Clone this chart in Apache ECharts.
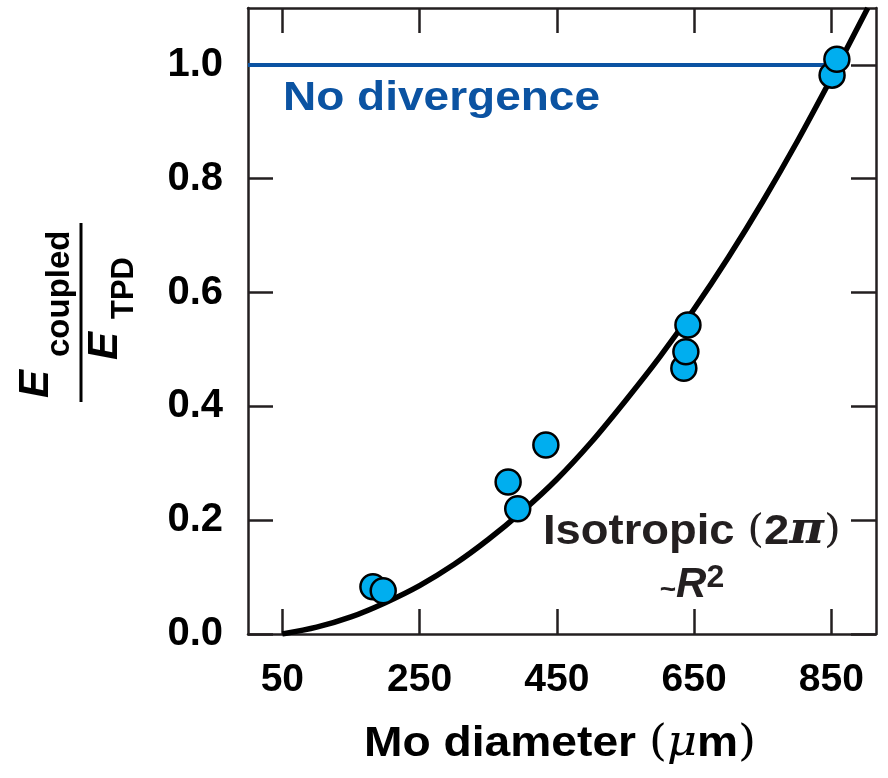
<!DOCTYPE html>
<html>
<head>
<meta charset="utf-8">
<script src="https://cdn.jsdelivr.net/npm/echarts@6/dist/echarts.min.js"></script>
<style>
html,body{margin:0;padding:0;background:#fff;}
#chart{width:888px;height:778px;}
</style>
</head>
<body>
<div id="chart"></div>
<script>
// ---- data ----
const xTicks = [50, 250, 450, 650, 850];
const yTicks = [0, 0.2, 0.4, 0.6, 0.8, 1.0];

// measured points (Mo diameter in µm, Ecoupled/ETPD)
const pointX = [182, 197, 379, 393, 434, 635, 638, 641, 851, 858];
const pointY = [0.083, 0.076, 0.267, 0.220, 0.332, 0.467, 0.496, 0.543, 0.982, 1.010];

// isotropic (2π) ~R^2 curve
const curveX = [50, 100, 150, 200, 250, 300, 350, 400, 450, 500, 550, 600, 650, 700, 750, 800, 850, 903];
const curveY = [0.0, 0.012, 0.030, 0.055, 0.085, 0.122, 0.166, 0.216, 0.272, 0.337, 0.410, 0.487, 0.571, 0.662, 0.760, 0.865, 0.977, 1.1];

// "No divergence" reference line
const noDivX = [0, 842];
const noDivY = [1.0, 1.0];

const FONT = "'Liberation Sans', Arial, Helvetica, sans-serif";
const AXIS_COLOR = '#231f20';
const BLUE = '#0b53a2';

const zip = (a, b) => a.map((v, i) => [v, b[i]]);

const chart = echarts.init(document.getElementById('chart'), null, {renderer: 'canvas'});

const axisCommon = {
  axisLine: {show: true, onZero: false, lineStyle: {color: AXIS_COLOR, width: 2.5}},
  splitLine: {show: false}
};
const tickStyle = {color: AXIS_COLOR, width: 2.5};

const option = {
  backgroundColor: '#ffffff',
  animation: false,
  grid: {left: 248, right: 12, top: 8, bottom: 144, containLabel: false},
  xAxis: [
    Object.assign({}, axisCommon, {
      type: 'value', min: 0, max: 915, position: 'bottom',
      axisTick: {show: true, inside: true, length: 25, customValues: xTicks, lineStyle: tickStyle},
      axisLabel: {show: true, customValues: xTicks, margin: 27, fontSize: 39, fontWeight: 'bold', color: '#000', fontFamily: FONT}
    }),
    Object.assign({}, axisCommon, {
      type: 'value', min: 0, max: 915, position: 'top',
      axisTick: {show: true, inside: true, length: 25, customValues: xTicks, lineStyle: tickStyle},
      axisLabel: {show: false}
    })
  ],
  yAxis: [
    Object.assign({}, axisCommon, {
      type: 'value', min: 0, max: 1.1, position: 'left',
      axisTick: {show: true, inside: true, length: 25, customValues: yTicks, lineStyle: tickStyle},
      axisLabel: {show: true, customValues: yTicks, margin: 25, fontSize: 40, fontWeight: 'bold', color: '#000', fontFamily: FONT,
        formatter: v => v.toFixed(1)}
    }),
    Object.assign({}, axisCommon, {
      type: 'value', min: 0, max: 1.1, position: 'right',
      axisTick: {show: true, inside: true, length: 25, customValues: yTicks, lineStyle: tickStyle},
      axisLabel: {show: false}
    })
  ],
  series: [
    {
      name: 'No divergence', type: 'line', data: zip(noDivX, noDivY),
      showSymbol: false, symbol: 'none', lineStyle: {color: BLUE, width: 4}, z: 3, silent: true
    },
    {
      name: 'Isotropic', type: 'line', data: zip(curveX, curveY), smooth: 0.3,
      showSymbol: false, symbol: 'none', lineStyle: {color: '#000', width: 5.5}, z: 4, silent: true
    },
    {
      name: 'Measured', type: 'scatter', data: zip(pointX, pointY), symbolSize: 25,
      itemStyle: {color: '#00aeef', borderColor: '#000', borderWidth: 2.5, opacity: 1}, z: 5
    }
  ],
  graphic: [
    // y axis title: E_coupled / E_TPD (rotated)
    {type: 'text', x: 57, y: 398, rotation: Math.PI / 2,
      style: {text: 'E', font: `italic bold 42px ${FONT}`, fill: '#000', align: 'left', verticalAlign: 'bottom'}},
    {type: 'text', x: 76, y: 357, rotation: Math.PI / 2,
      style: {text: 'coupled', font: `bold 33px ${FONT}`, fill: '#000', align: 'left', verticalAlign: 'bottom'}},
    {type: 'line', shape: {x1: 81, y1: 223, x2: 81, y2: 402}, style: {stroke: '#000', lineWidth: 3}},
    {type: 'text', x: 126, y: 360, rotation: Math.PI / 2,
      style: {text: 'E', font: `italic bold 42px ${FONT}`, fill: '#000', align: 'left', verticalAlign: 'bottom'}},
    {type: 'text', x: 140, y: 319, rotation: Math.PI / 2,
      style: {text: 'TPD', font: `bold 31px ${FONT}`, fill: '#000', align: 'left', verticalAlign: 'bottom'}},
    // x axis title
    {type: 'text', x: 560, y: 744, scaleX: 1.1,
      style: {
        text: '{b|Mo diameter }{p|(}{m|μ}{b|m}{p|)}',
        align: 'center', verticalAlign: 'middle',
        rich: {
          b: {font: `bold 42px ${FONT}`, fill: '#000'},
          p: {font: `42px 'DejaVu Serif', serif`, fill: '#000'},
          m: {font: `italic 42px 'DejaVu Serif', serif`, fill: '#000'}
        }
      }},
    // annotations
    {type: 'text', x: 283, y: 99, scaleX: 1.15,
      style: {text: 'No divergence', font: `bold 40px ${FONT}`, fill: BLUE, align: 'left', verticalAlign: 'middle'}},
    {type: 'text', x: 543, y: 532, scaleX: 1.08,
      style: {
        text: '{b|Isotropic }{p|(}{b|2}{pi|π}{p|)}',
        align: 'left', verticalAlign: 'middle',
        rich: {
          b: {font: `bold 42px ${FONT}`, fill: '#231f20'},
          p: {font: `40px 'DejaVu Serif', serif`, fill: '#231f20'},
          pi: {font: `italic bold 44px 'DejaVu Serif', serif`, fill: '#231f20'}
        }
      }},
    {type: 'text', x: 692, y: 585,
      style: {
        text: '{t|~}{r|R}{s|2}',
        align: 'center', verticalAlign: 'middle',
        rich: {
          t: {font: `bold 28px ${FONT}`, fill: '#231f20', padding: [10, 0, 0, 0]},
          r: {font: `italic bold 42px ${FONT}`, fill: '#231f20'},
          s: {font: `bold 32px ${FONT}`, fill: '#231f20', padding: [0, 0, 14, 0]}
        }
      }}
  ]
};

chart.setOption(option);
</script>
</body>
</html>
